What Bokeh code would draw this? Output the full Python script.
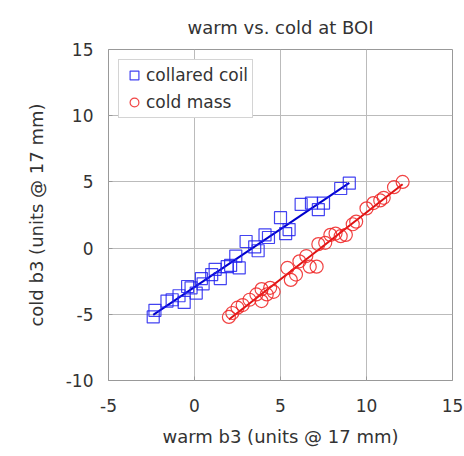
import numpy as np
from bokeh.plotting import figure
from bokeh.models import Legend, LegendItem, FixedTicker
from bokeh.embed import file_html
from bokeh.resources import INLINE

# collared coil (blue squares)
coil_x = [-2.4, -2.3, -1.6, -1.3, -0.9, -0.6, -0.4, -0.2, 0.1, 0.4, 0.5, 1.2, 1.0, 1.5, 1.9, 2.1,
          2.4, 2.6, 3.0, 3.5, 3.7, 4.1, 4.3, 5.0, 5.3, 5.5, 6.2, 6.8, 7.2, 7.5, 8.5, 9.0]
coil_y = [-5.2, -4.7, -4.0, -3.9, -3.6, -4.1, -2.9, -3.0, -3.4, -2.3, -2.7, -1.6, -2.0, -2.3, -1.4, -1.3,
          -0.6, -1.5, 0.5, 0.1, -0.2, 1.0, 0.8, 2.3, 1.1, 1.4, 3.3, 3.4, 2.9, 3.4, 4.5, 4.9]

# cold mass (red circles)
mass_x = [2.0, 2.2, 2.5, 2.8, 3.2, 3.6, 3.9, 3.9, 4.2, 4.6, 4.4, 5.4, 5.6, 5.9, 6.1, 6.5,
          6.7, 7.1, 7.2, 7.6, 7.9, 8.2, 8.5, 8.8, 9.2, 9.4, 10.0, 10.4, 10.8, 11.0, 11.6, 12.1]
mass_y = [-5.2, -4.9, -4.5, -4.3, -3.9, -3.5, -3.1, -4.0, -3.5, -3.3, -3.0, -1.5, -2.4, -2.0, -1.0, -0.6,
          -1.4, -1.4, 0.3, 0.4, 1.0, 1.1, 0.9, 1.0, 1.8, 2.0, 3.0, 3.4, 3.6, 3.8, 4.6, 5.0]

x_ticks = [-5, 0, 5, 10, 15]
y_ticks = [-10, -5, 0, 5, 10, 15]

FONT = "DejaVu Sans"
TXT = "#333333"

p = figure(width=464, height=456, output_backend="svg", toolbar_location=None,
           x_range=(-5, 15), y_range=(-10, 15),
           min_border_left=108, min_border_right=12, min_border_top=49, min_border_bottom=76,
           title="warm vs. cold at BOI")
p.title.text_font = FONT
p.title.text_font_size = "18px"
p.title.text_font_style = "normal"
p.title.text_color = TXT
p.title.align = "center"
p.title.standoff = 24

p.outline_line_color = "#999999"
p.background_fill_color = "white"
p.border_fill_color = "white"

for ax, ticks in ((p.xaxis[0], x_ticks), (p.yaxis[0], y_ticks)):
    ax.ticker = FixedTicker(ticks=ticks)
    ax.major_label_overrides = {t: str(t) for t in ticks}
    ax.axis_line_color = None
    ax.major_tick_in = 4
    ax.major_tick_out = 0
    ax.major_tick_line_color = "#999999"
    ax.minor_tick_line_color = None
    ax.major_label_text_font = FONT
    ax.major_label_text_font_size = "17px"
    ax.major_label_text_color = TXT
    ax.axis_label_text_font = FONT
    ax.axis_label_text_font_size = "18px"
    ax.axis_label_text_font_style = "normal"
    ax.axis_label_text_color = TXT

p.xaxis.major_label_standoff = 18
p.yaxis.major_label_standoff = 15
p.xaxis.axis_label = "warm b3 (units @ 17 mm)"
p.yaxis.axis_label = "cold b3 (units @ 17 mm)"
p.xaxis.axis_label_standoff = 11
p.yaxis.axis_label_standoff = 16

p.xgrid.ticker = FixedTicker(ticks=x_ticks)
p.ygrid.ticker = FixedTicker(ticks=y_ticks)
p.grid.grid_line_color = "#bbbbbb"
p.grid.grid_line_width = 1

# fit lines
cx = np.array(coil_x); cy = np.array(coil_y)
mx = np.array(mass_x); my = np.array(mass_y)
cb = np.polyfit(cx, cy, 1)
mb = np.polyfit(mx, my, 1)
cxl = np.array([cx.min(), cx.max()])
mxl = np.array([mx.min(), mx.max()])
p.line(cxl, np.polyval(cb, cxl), line_color="#0000cc", line_width=2)
p.line(mxl, np.polyval(mb, mxl), line_color="#dd1111", line_width=2)

r1 = p.scatter(coil_x, coil_y, marker="square", size=12, fill_color=None,
               line_color="#2222ee", line_width=1.2, line_alpha=0.85)
r2 = p.scatter(mass_x, mass_y, marker="circle", size=13, fill_color=None,
               line_color="#ee2222", line_width=1.2, line_alpha=0.85)

legend = Legend(items=[LegendItem(label="collared coil", renderers=[r1]),
                       LegendItem(label="cold mass", renderers=[r2])],
                location="top_left")
legend.label_text_font = FONT
legend.label_text_font_size = "17px"
legend.label_text_color = TXT
legend.border_line_color = "#aaaaaa"
legend.glyph_width = 22
legend.glyph_height = 22
legend.label_standoff = 1
legend.spacing = 5
legend.padding = 4
legend.margin = 10
legend.background_fill_alpha = 1.0
p.add_layout(legend)

open("out.html", "w").write(file_html(p, INLINE))
